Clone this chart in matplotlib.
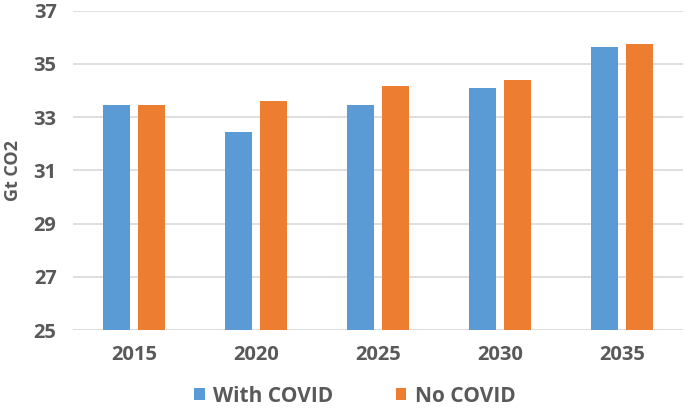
import matplotlib.pyplot as plt
import numpy as np

years = ["2015", "2020", "2025", "2030", "2035"]
with_covid = [33.46, 32.45, 33.46, 34.09, 35.64]
no_covid = [33.46, 33.62, 34.18, 34.40, 35.73]

plt.rcParams['font.family'] = ['Open Sans', 'DejaVu Sans']

fig = plt.figure(figsize=(6.85, 4.11), dpi=100)
ax = fig.add_axes([0.107, 0.197, 0.89, 0.777])

x = np.arange(len(years))
w = 0.22
ax.bar(x - 0.143, with_covid, w, color='#5B9BD5', label='With COVID', zorder=3)
ax.bar(x + 0.143, no_covid, w, color='#ED7D31', label='No COVID', zorder=3)

ax.set_ylim(25, 37)
ax.set_xlim(-0.5, 4.5)
ax.set_yticks(range(25, 38, 2))
ax.set_xticks(x)
ax.set_xticklabels(years)
ax.yaxis.grid(True, color='#d9d9d9', linewidth=1.2, zorder=0)
for s in ax.spines.values():
    s.set_visible(False)
ax.tick_params(length=0, labelsize=14.5, labelcolor='#595959', pad=12)
ax.tick_params(axis='x', pad=11)
for lbl in ax.get_xticklabels() + ax.get_yticklabels():
    lbl.set_fontweight('bold')

ax.set_ylabel("Gt CO2", fontsize=13, fontweight='bold', color='#595959', labelpad=8)

fig.legend(loc='center', bbox_to_anchor=(0.518, 0.036), ncol=2, frameon=False,
           prop={'size': 15, 'weight': 'bold'}, labelcolor='#595959',
           handlelength=0.5, handleheight=0.5, handletextpad=0.4, columnspacing=3.0)

plt.savefig('out.png')
